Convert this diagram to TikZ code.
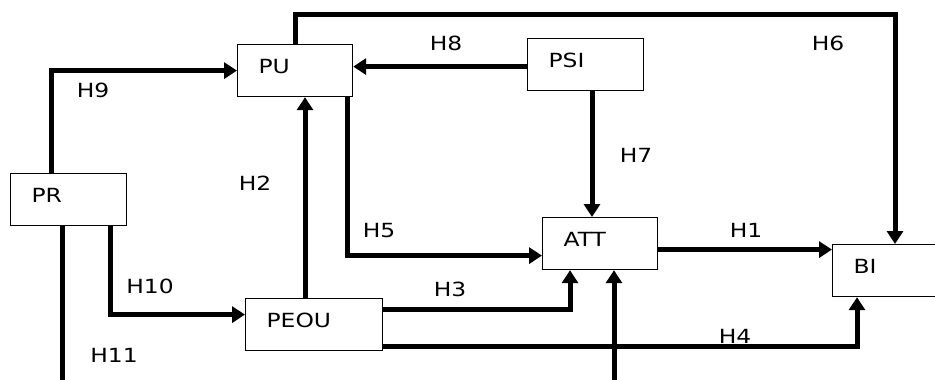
\documentclass[tikz,border=0pt]{standalone}
\usepackage{fontspec}
\setmainfont{DejaVu Sans}[FakeStretch=1.2]
\usepackage{tikz}
\usetikzlibrary{arrows.meta, positioning, calc}

\begin{document}
\begin{tikzpicture}[
    x=1pt, y=-1pt,
    construct/.style={draw, line width=1.2pt, anchor=north west, inner xsep=21pt, align=left,
      text height=14pt, text depth=9pt, minimum height=52pt, font=\fontsize{19.5}{22}\selectfont},
    arrow/.style={-{Triangle[length=13pt, width=16pt]}, line width=5pt},
    hyp/.style={inner sep=0pt, font=\fontsize{19.5}{22}\selectfont}
  ]
    \fill[white] (0,0) rectangle (935,380);
    \useasboundingbox (0,0) rectangle (935,380);

    \node[construct, text width=74pt] (pr) at (10,173) {PR};
    \node[construct, text width=73pt] (pu) at (237,44) {PU};
    \node[construct, text width=95pt] (peou) at (245,298) {PEOU};
    \node[construct, text width=74pt] (psi) at (527,38) {PSI};
    \node[construct, text width=73pt] (att) at (542,217) {ATT};
    \node[construct, text width=78pt] (bi) at (832,244) {BI};

    \coordinate (h9s) at ([xshift=41pt]pr.north west);
    \coordinate (h10s) at ([xshift=100pt]pr.south west);
    \coordinate (h11s) at ([xshift=52pt]pr.south west);
    \coordinate (h11e) at (62,392);
    \coordinate (h2s) at ([xshift=60pt]peou.north west);
    \coordinate (h5s) at ([xshift=-6pt]pu.south east);
    \coordinate (h8s) at ([yshift=-2pt]psi.west);
    \coordinate (h7s) at ([xshift=65pt]psi.south west);
    \coordinate (h1s) at ([yshift=-6pt]att.east);
    \coordinate (h6top) at (895,14);
    \coordinate (attin) at (614,392);

    \draw[arrow] (h9s) |- (pu.west);
    \draw[arrow] (h10s) |- ([yshift=10pt]peou.west);
    \draw[line width=5pt] (h11s) -- (h11e);
    \draw[arrow] (h2s) -- (h2s |- pu.south);
    \draw[arrow] (h5s) |- ([yshift=-12pt]att.west);
    \draw[arrow] ([yshift=15pt]peou.east) -| ([xshift=28pt]att.south west);
    \draw[arrow] ([yshift=-22pt]peou.east) -| ([xshift=25pt]bi.south west);
    \draw[arrow] (attin) -- (attin |- att.south);
    \draw[arrow] (h8s) -- (h8s -| pu.east);
    \draw[arrow] (h7s) -- (h7s |- att.north);
    \draw[arrow] (h1s) -- (h1s -| bi.west);
    \draw[arrow] (pu.north) |- (h6top) -- (h6top |- bi.north);

    \node[hyp] (l1) at (746,230) {H1};
    \node[hyp] (l2) at (255,183) {H2};
    \node[hyp] (l3) at (450,289) {H3};
    \node[hyp] (l4) at (735,336) {H4};
    \node[hyp] (l5) at (379,231) {H5};
    \node[hyp] (l6) at (828,43) {H6};
    \node[hyp] (l7) at (636,155) {H7};
    \node[hyp] (l8) at (446,43) {H8};
    \node[hyp] (l9) at (93,90) {H9};
    \node[hyp] (l10) at (150,286) {H10};
    \node[hyp] (l11) at (114,355) {H11};
  \end{tikzpicture}
\end{document}
